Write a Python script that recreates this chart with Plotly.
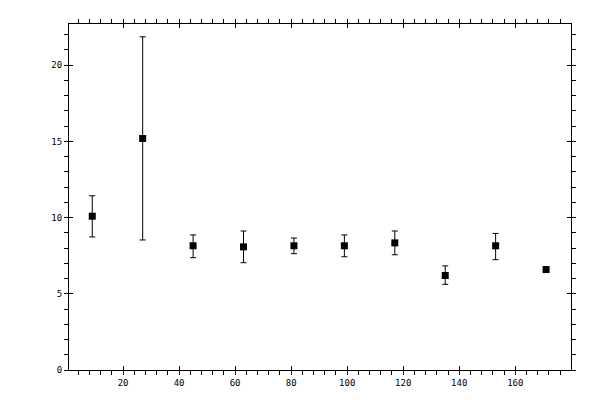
import plotly.graph_objects as go

x_vals = [9, 27, 45, 63, 81, 99, 117, 135, 153, 171]
y_vals = [10.09, 15.19, 8.15, 8.08, 8.15, 8.15, 8.34, 6.20, 8.15, 6.59]
err_plus = [1.34, 6.67, 0.71, 1.04, 0.51, 0.71, 0.78, 0.63, 0.81, 0.0]
err_minus = [1.36, 6.66, 0.78, 1.04, 0.52, 0.72, 0.78, 0.58, 0.91, 0.0]

x_range = [0.7, 179.9]
y_range = [0, 22.7]

tick_font = dict(family="DejaVu Sans Mono", size=9, color="black")

fig = go.Figure()

fig.add_trace(
    go.Scatter(
        x=x_vals,
        y=y_vals,
        mode="markers",
        marker=dict(symbol="square", size=7, color="black"),
        error_y=dict(
            type="data",
            symmetric=False,
            array=err_plus,
            arrayminus=err_minus,
            color="black",
            thickness=1,
            width=3,
        ),
        showlegend=False,
    )
)

# invisible trace so the inner-tick overlay axes get drawn
fig.add_trace(
    go.Scatter(x=[], y=[], xaxis="x2", yaxis="y2", showlegend=False, hoverinfo="skip")
)

axis_common = dict(
    showgrid=False,
    zeroline=False,
    linecolor="black",
    linewidth=1,
    tickcolor="black",
    tickwidth=1,
)

# page body adds ~8px offset, so margins are shifted to compensate
fig.update_layout(
    width=600,
    height=400,
    margin=dict(l=61, r=37, t=11, b=38),
    paper_bgcolor="white",
    plot_bgcolor="white",
    font=tick_font,
    xaxis=dict(
        range=x_range,
        dtick=20,
        tick0=0,
        ticks="outside",
        ticklen=4,
        showline=True,
        mirror="ticks",
        tickfont=tick_font,
        minor=dict(dtick=4, tick0=0, ticks="outside", ticklen=4, tickcolor="black", tickwidth=1),
        **axis_common,
    ),
    yaxis=dict(
        range=y_range,
        dtick=5,
        tick0=0,
        ticks="outside",
        ticklen=4,
        showline=True,
        mirror="ticks",
        tickfont=tick_font,
        minor=dict(dtick=1, tick0=0, ticks="outside", ticklen=4, tickcolor="black", tickwidth=1),
        **axis_common,
    ),
    xaxis2=dict(
        range=x_range,
        overlaying="x",
        side="bottom",
        anchor="y2",
        dtick=20,
        tick0=0,
        ticks="inside",
        ticklen=4,
        showticklabels=False,
        showline=False,
        mirror="ticks",
        **axis_common,
    ),
    yaxis2=dict(
        range=y_range,
        overlaying="y",
        side="left",
        anchor="x2",
        dtick=5,
        tick0=0,
        ticks="inside",
        ticklen=4,
        showticklabels=False,
        showline=False,
        mirror="ticks",
        **axis_common,
    ),
)

fig.write_html("out.html")
